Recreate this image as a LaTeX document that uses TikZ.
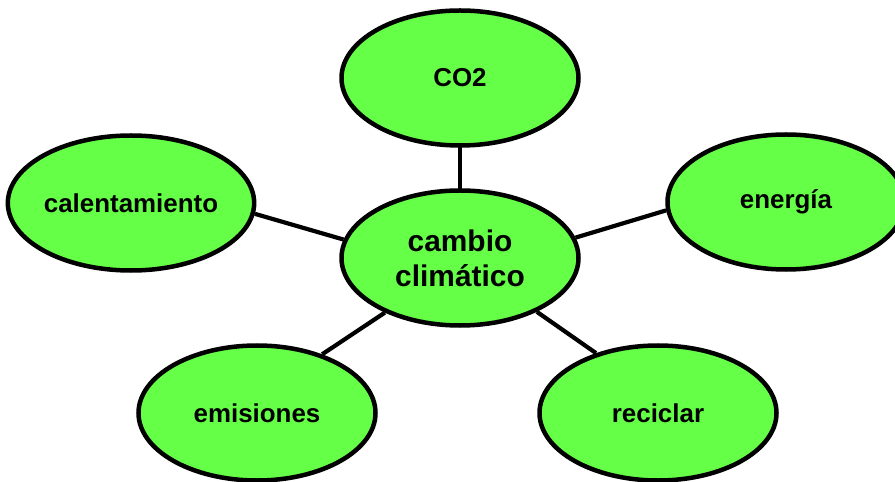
\documentclass[tikz,border=0pt]{standalone}
\usepackage{fontspec}
\setmainfont{Liberation Sans}
\usetikzlibrary{shapes.geometric,backgrounds}
\definecolor{bubble}{RGB}{102,255,71}
\tikzset{
  bub/.style={ellipse, draw=black, line width=4.5bp, fill=bubble,
    minimum width=237bp, minimum height=135bp, inner sep=0pt,
    font=\fontsize{26}{30}\selectfont\bfseries, align=center},
  hub/.style={bub, font=\fontsize{30}{35}\selectfont\bfseries},
  link/.style={draw=black, line width=4.2bp}
}
\begin{document}
\begin{tikzpicture}[x=1bp,y=1bp]
\useasboundingbox (0,0) rectangle (895,-482);
\clip (0,0) rectangle (895,-482);
\node[hub] (c) at (460,-258) {cambio\\climático};
\node[bub] (co2) at (460,-78) {CO2};
\node[bub] (cal) at (131,-203) {calentamiento};
\node[bub] (ene) at (786,-202) {energía};
\node[bub] (emi) at (257,-413) {emisiones};
\node[bub] (rec) at (658,-413) {reciclar};
\begin{scope}[on background layer]
\fill[white] (0,0) rectangle (895,-482);
\draw[link] (c.center) -- (co2.center);
\draw[link] (c.171) -- (cal.-5);
\draw[link] (c.10) -- (ene.-176);
\draw[link] (c.216) -- (emi.42);
\draw[link] (c.-35) -- (rec.136);
\end{scope}
\end{tikzpicture}
\end{document}
